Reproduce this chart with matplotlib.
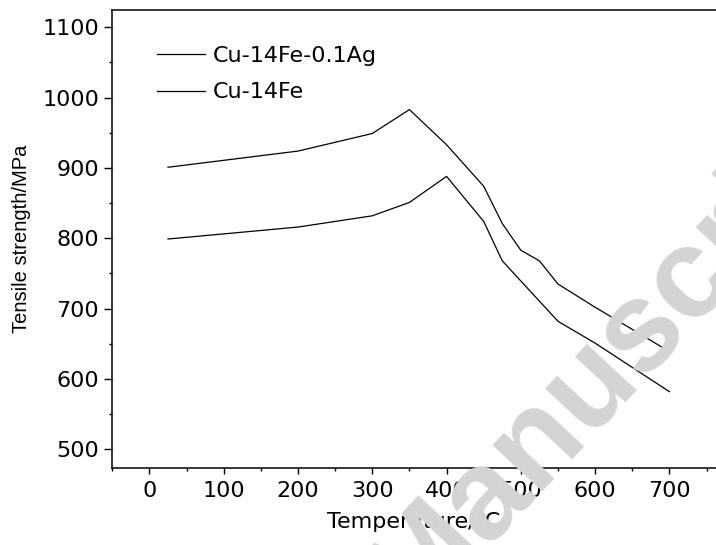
import matplotlib
matplotlib.use("Agg")
import matplotlib.pyplot as plt
from matplotlib.ticker import MultipleLocator

plt.rcParams['font.family'] = ['DejaVu Sans']

temp_ag = [25, 200, 300, 350, 400, 450, 475, 500, 525, 550, 600, 700]
ts_ag = [901, 924, 949, 983, 933, 874, 821, 783, 768, 735, 702, 639]
temp_fe = [25, 200, 300, 350, 400, 450, 475, 550, 600, 700]
ts_fe = [799, 816, 832, 851, 888, 824, 768, 682, 651, 582]
labels = ['Cu-14Fe-0.1Ag', 'Cu-14Fe']

FS = 16

fig = plt.figure(figsize=(7.16, 5.45), dpi=100)
ax = fig.add_axes([0.1568, 0.1413, 0.8432, 0.8404])

# watermark
fig.text(0.869, 0.359, 'Manuscript', fontsize=92, fontweight='bold', color='#d4d4d4',
         family='Liberation Sans', rotation=47, ha='center', va='center',
         rotation_mode='anchor', zorder=0)
ax.patch.set_alpha(0)

ax.plot(temp_ag, ts_ag, color='black', lw=0.9, label=labels[0])
ax.plot(temp_fe, ts_fe, color='black', lw=0.9, label=labels[1])

ax.set_xlim(-50, 762.7)
ax.set_ylim(473.5, 1124.6)
ax.xaxis.set_major_locator(MultipleLocator(100))
ax.xaxis.set_minor_locator(MultipleLocator(50))
ax.yaxis.set_major_locator(MultipleLocator(100))
ax.yaxis.set_minor_locator(MultipleLocator(50))
ax.set_xticks(range(0, 701, 100))

for s in ['left', 'bottom', 'top']:
    ax.spines[s].set_linewidth(1.1)
ax.spines['right'].set_visible(False)

ax.tick_params(axis='both', which='major', direction='out', width=1.0, labelsize=FS)
ax.tick_params(axis='x', which='major', length=4.5, pad=5)
ax.tick_params(axis='y', which='major', length=5.5, pad=4)
ax.tick_params(axis='both', which='minor', direction='out', width=1.0, length=2.5)

ax.set_xlabel('Temperature/℃', fontsize=FS, labelpad=8)
ax.set_ylabel('Tensile strength/MPa', fontsize=14.5, family='Liberation Sans', labelpad=8)

ax.legend(loc='upper left', bbox_to_anchor=(0.074, 0.922), frameon=False, fontsize=FS,
          handlelength=2.16, handletextpad=0.36, labelspacing=0.75, borderpad=0,
          borderaxespad=0)

fig.savefig('out.png', dpi=100)
